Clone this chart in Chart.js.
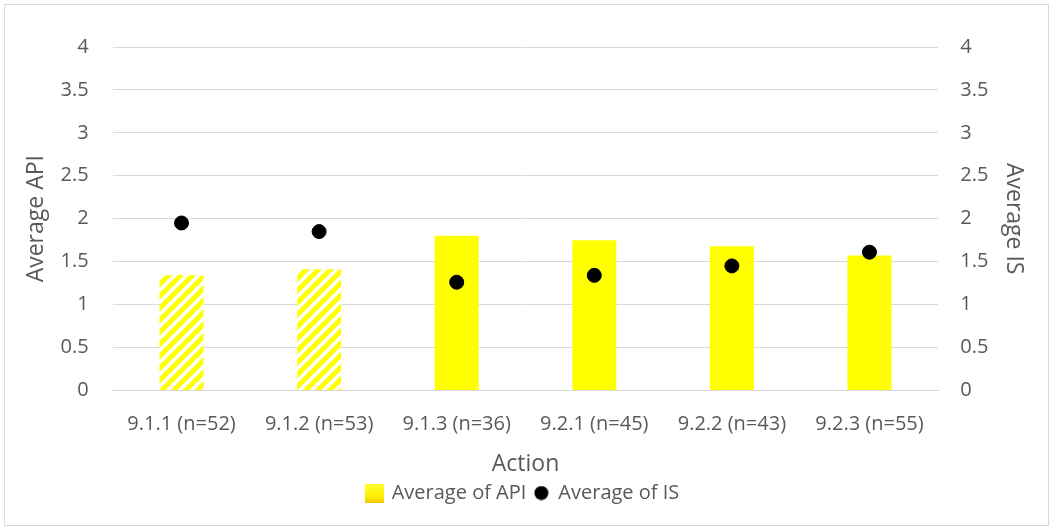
<!DOCTYPE html>
<html>
<head>
<meta charset="utf-8">
<script src="https://cdn.jsdelivr.net/npm/chart.js@4"></script>
<style>
  body { margin: 0; background: #fff; }
</style>
</head>
<body>
<canvas id="canvas" width="1053" height="530"></canvas>
<script>
let actions = ["9.1.1 (n=52)", "9.1.2 (n=53)", "9.1.3 (n=36)", "9.2.1 (n=45)", "9.2.2 (n=43)", "9.2.3 (n=55)"];
let avgAPI = [1.34, 1.41, 1.80, 1.75, 1.68, 1.57];
let avgIS = [1.95, 1.85, 1.26, 1.34, 1.45, 1.61];
let hatched = [true, true, false, false, false, false];

// diagonal yellow stripes for the first two bars
function makeHatch() {
  let c = document.createElement("canvas");
  c.width = 12;
  c.height = 12;
  let g = c.getContext("2d");
  g.fillStyle = "#ffffff";
  g.fillRect(0, 0, 12, 12);
  g.strokeStyle = "#ffff00";
  g.lineWidth = 5;
  g.beginPath();
  g.moveTo(-3, 15); g.lineTo(15, -3);
  g.moveTo(-9, 9); g.lineTo(9, -9);
  g.moveTo(3, 21); g.lineTo(21, 3);
  g.stroke();
  return g.createPattern(c, "repeat");
}
let hatch = makeHatch();

// legend markers
function legendSquare() {
  let c = document.createElement("canvas");
  c.width = 19;
  c.height = 19;
  let g = c.getContext("2d");
  let grad = g.createLinearGradient(0, 0, 0, 19);
  grad.addColorStop(0, "#ffff30");
  grad.addColorStop(0.7, "#ffee00");
  grad.addColorStop(1, "#f2c800");
  g.fillStyle = grad;
  g.fillRect(0, 0, 19, 19);
  return c;
}
function legendDot() {
  let c = document.createElement("canvas");
  c.width = 15;
  c.height = 15;
  let g = c.getContext("2d");
  g.fillStyle = "#000000";
  g.beginPath();
  g.arc(7.5, 7.5, 7, 0, Math.PI * 2);
  g.fill();
  return c;
}
let sq = legendSquare();
let dot = legendDot();

let frame = {
  id: "frame",
  afterDraw(chart) {
    let ctx = chart.ctx;
    ctx.save();
    ctx.strokeStyle = "#d9d9d9";
    ctx.lineWidth = 1;
    ctx.strokeRect(4.5, 4.5, 1044, 521);
    ctx.restore();
  },
};

let font = "'Open Sans', 'Liberation Sans', sans-serif";
let grey = "#595959";
let fmt = (v) => String(v);

let chart = new Chart(document.getElementById("canvas"), {
  type: "bar",
  data: {
    labels: actions,
    datasets: [
      {
        type: "scatter",
        label: "Average of IS",
        data: avgIS,
        yAxisID: "y2",
        backgroundColor: "#000000",
        borderColor: "#000000",
        pointRadius: 7,
        pointHoverRadius: 7,
        showLine: false,
        order: 0,
      },
      {
        label: "Average of API",
        data: avgAPI,
        yAxisID: "y",
        backgroundColor: hatched.map((h) => (h ? hatch : "#ffff00")),
        borderWidth: 0,
        categoryPercentage: 1,
        barPercentage: 0.32,
        order: 1,
      },
    ],
  },
  options: {
    responsive: false,
    animation: false,
    layout: { padding: { top: 47, left: 4, right: 10, bottom: 17 } },
    plugins: {
      tooltip: { enabled: false },
      legend: {
        position: "bottom",
        labels: {
          color: grey,
          font: { family: font, size: 20 },
          padding: 8,
          boxWidth: 14,
          boxHeight: 16,
          usePointStyle: true,
          generateLabels: (c) => [
            { text: "Average of API", fillStyle: "#ffff00", strokeStyle: "#ffff00", lineWidth: 0, pointStyle: sq, datasetIndex: 1, fontColor: grey },
            { text: "Average of IS", fillStyle: "#000000", strokeStyle: "#000000", lineWidth: 0, pointStyle: dot, datasetIndex: 0, fontColor: grey },
          ],
        },
      },
    },
    scales: {
      x: {
        type: "category",
        offset: true,
        grid: { display: false },
        border: { display: true, color: "#d9d9d9" },
        ticks: { color: grey, font: { family: font, size: 20 }, padding: 14, maxRotation: 0 },
        title: { display: true, text: "Action", color: grey, font: { family: font, size: 23 }, padding: { top: 0, bottom: -3 } },
      },
      y: {
        position: "left",
        min: 0,
        max: 4,
        ticks: { stepSize: 0.5, color: grey, font: { family: font, size: 20 }, padding: 24, callback: fmt },
        grid: { color: "#d9d9d9", drawTicks: false },
        border: { display: false },
        title: { display: true, text: "Average API", color: grey, font: { family: font, size: 23 }, padding: { top: 19, bottom: -14 } },
      },
      y2: {
        position: "right",
        min: 0,
        max: 4,
        ticks: { stepSize: 0.5, color: grey, font: { family: font, size: 20 }, padding: 22, callback: fmt },
        grid: { display: false, drawTicks: false },
        border: { display: false },
        title: { display: true, text: "Average IS", color: grey, font: { family: font, size: 23 }, padding: { top: 16, bottom: -11 } },
      },
    },
  },
  plugins: [frame],
});
</script>
</body>
</html>
